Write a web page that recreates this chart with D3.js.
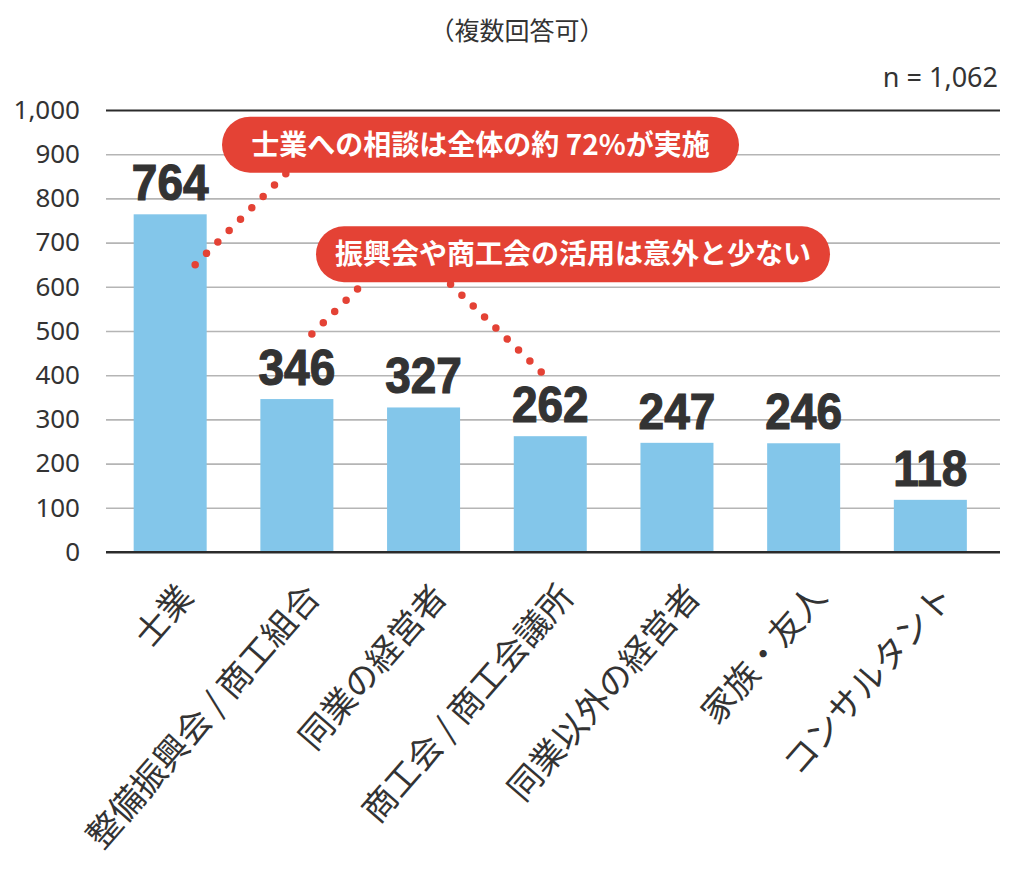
<!DOCTYPE html>
<html>
<head>
<meta charset="utf-8">
<script src="https://cdn.jsdelivr.net/npm/d3@7"></script>
<style>
  body { margin: 0; background: #fff; }
  svg { display: block; }
</style>
</head>
<body>
<svg id="chart"></svg>
<script>
// data
const categories = ["士業", "整備振興会 / 商工組合", "同業の経営者", "商工会 / 商工会議所", "同業以外の経営者", "家族・友人", "コンサルタント"];
const counts = [764, 346, 327, 262, 247, 246, 118];
const yTicks = [0, 100, 200, 300, 400, 500, 600, 700, 800, 900, 1000];
const subtitle = "（複数回答可）";
const sampleNote = "n = 1,062";
const notes = ["士業への相談は全体の約 72%が実施", "振興会や商工会の活用は意外と少ない"];

const W = 1024, H = 879;
const plotLeft = 106, plotRight = 1000, plotTop = 110, plotBottom = 552;
const ink = "#333";
const red = "#e44235";

const svg = d3.select("#chart").attr("width", W).attr("height", H);

const x = d3.scaleBand().domain(categories).range([plotLeft, plotRight])
  .paddingInner(0.4237).paddingOuter(0.24).align(0.455);
const y = d3.scaleLinear().domain([0, 1000]).range([plotBottom, plotTop]);

// gridlines + y labels
const yAxis = d3.axisLeft(y).tickValues(yTicks).tickSize(-(plotRight - plotLeft))
  .tickPadding(26).tickFormat(d3.format(","));
const gy = svg.append("g").attr("transform", `translate(${plotLeft},0)`).call(yAxis);
gy.select(".domain").remove();
gy.selectAll(".tick line")
  .attr("stroke", d => (d === 0 || d === 1000) ? "#2b2b2b" : "#b5b5b5")
  .attr("stroke-width", d => (d === 0 || d === 1000) ? 2.2 : 1.6);
gy.selectAll(".tick text")
  .attr("font-family", "'Noto Sans', 'Open Sans', sans-serif")
  .attr("font-size", 26).attr("fill", ink);

// bars
svg.append("g").selectAll("rect")
  .data(counts)
  .join("rect")
  .attr("x", (d, i) => x(categories[i]))
  .attr("y", d => y(d))
  .attr("width", x.bandwidth())
  .attr("height", d => y(0) - y(d) - 1)
  .attr("fill", "#83c6ea");

// redraw the zero line on top of bars
svg.append("line")
  .attr("x1", plotLeft).attr("x2", plotRight)
  .attr("y1", y(0)).attr("y2", y(0))
  .attr("stroke", "#2b2b2b").attr("stroke-width", 2.2);

// value labels (slightly condensed bold)
svg.append("g").selectAll("text")
  .data(counts)
  .join("text")
  .attr("transform", (d, i) => `translate(${x(categories[i]) + x.bandwidth() / 2},${y(d) - 14}) scale(0.92,1)`)
  .attr("text-anchor", "middle")
  .attr("font-family", "'Liberation Sans', Arial, sans-serif")
  .attr("font-weight", "bold")
  .attr("font-size", 50)
  .attr("fill", ink)
  .attr("stroke", ink)
  .attr("stroke-width", 1.2)
  .text(d => d);

// category axis, slanted labels
const xAxis = d3.axisBottom(x).tickSize(0);
const gx = svg.append("g").attr("transform", `translate(0,${plotBottom})`).call(xAxis);
gx.select(".domain").remove();
gx.selectAll(".tick text")
  .attr("y", 0).attr("dy", 0)
  .attr("transform", "translate(25,46) rotate(-49)")
  .attr("text-anchor", "end")
  .attr("font-family", "'Noto Sans CJK JP', sans-serif")
  .attr("font-size", 34)
  .attr("fill", ink);

// headings
svg.append("text")
  .attr("x", 517).attr("y", 40)
  .attr("text-anchor", "middle")
  .attr("font-family", "'Noto Sans CJK JP', sans-serif")
  .attr("font-size", 25).attr("fill", ink)
  .text(subtitle);

svg.append("text")
  .attr("x", 998).attr("y", 87)
  .attr("text-anchor", "end")
  .attr("font-family", "'Noto Sans', 'Open Sans', sans-serif")
  .attr("font-size", 27).attr("fill", ink)
  .text(sampleNote);

// dotted connectors, anchored in data space (category, value, pixel nudge)
const cx = (c, dx) => x(categories[c]) + x.bandwidth() / 2 + dx;
const connectors = [
  [[0, 650, 25], [1, 856, -11]],
  [[1, 493, 15], [2, 595, -66]],
  [[2, 606, 27], [3, 407, -9]]
];
svg.append("g").selectAll("line")
  .data(connectors)
  .join("line")
  .attr("x1", d => cx(d[0][0], d[0][2])).attr("y1", d => y(d[0][1]))
  .attr("x2", d => cx(d[1][0], d[1][2])).attr("y2", d => y(d[1][1]))
  .attr("stroke", red)
  .attr("stroke-width", 7.5)
  .attr("stroke-linecap", "round")
  .attr("stroke-dasharray", d => {
    const len = Math.hypot(cx(d[1][0], d[1][2]) - cx(d[0][0], d[0][2]), y(d[1][1]) - y(d[0][1]));
    const gap = len / Math.round(len / 16);
    return `0 ${gap - 0.01}`;
  });

// callout pills
const pills = [
  { text: notes[0], x: 222, w: 517, top: y(985) },
  { text: notes[1], x: 316, w: 514, top: y(737) }
];
const pg = svg.append("g").selectAll("g").data(pills).join("g");
pg.append("rect")
  .attr("x", d => d.x).attr("y", d => d.top)
  .attr("width", d => d.w).attr("height", 56)
  .attr("rx", 28).attr("ry", 28)
  .attr("fill", red);
pg.append("text")
  .attr("x", d => d.x + d.w / 2).attr("y", d => d.top + 28)
  .attr("dy", "0.36em")
  .attr("text-anchor", "middle")
  .attr("font-family", "'Noto Sans CJK JP', sans-serif")
  .attr("font-weight", "bold")
  .attr("font-size", 28)
  .attr("fill", "#fff")
  .text(d => d.text);
</script>
</body>
</html>
